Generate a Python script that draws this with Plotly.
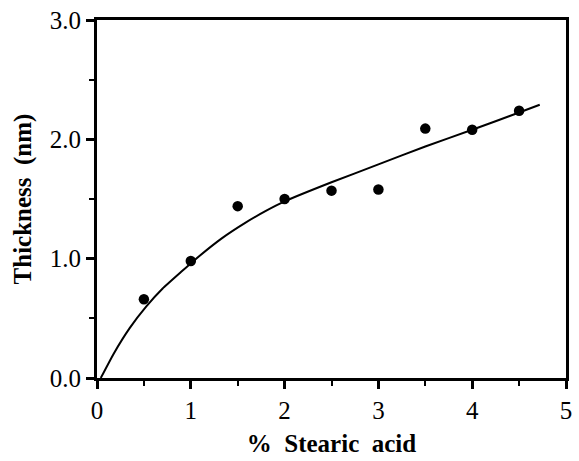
import plotly.graph_objects as go

# Measured film thickness vs. stearic acid content
stearic_pct = [0.5, 1.0, 1.5, 2.0, 2.5, 3.0, 3.5, 4.0, 4.5]
thickness_nm = [0.66, 0.98, 1.44, 1.50, 1.57, 1.58, 2.09, 2.08, 2.24]

# Fitted trend curve (sampled along the drawn line)
fit_x = [0.04, 0.175, 0.35, 0.526, 0.70, 0.877, 1.02, 1.33, 1.58, 1.80,
         2.0, 2.5, 3.0, 3.5, 4.0, 4.5, 4.72]
fit_y = [0.0, 0.20, 0.42, 0.60, 0.75, 0.875, 0.975, 1.17, 1.30, 1.40,
         1.48, 1.64, 1.79, 1.94, 2.08, 2.225, 2.29]

x_ticks = [0, 1, 2, 3, 4, 5]
y_ticks = [0.0, 1.0, 2.0, 3.0]

FONT = "Liberation Serif, Times New Roman, serif"

fig = go.Figure()
fig.add_trace(go.Scatter(
    x=fit_x, y=fit_y, mode="lines",
    line=dict(color="black", width=2, shape="spline", smoothing=0.35),
    hoverinfo="skip", showlegend=False,
))
fig.add_trace(go.Scatter(
    x=stearic_pct, y=thickness_nm, mode="markers",
    marker=dict(color="black", size=10.5),
    showlegend=False,
))

axis_common = dict(
    showgrid=False, zeroline=False,
    showline=True, linecolor="black", linewidth=3, mirror=True,
    ticks="outside", ticklen=8, tickwidth=2.5, tickcolor="black",
    tickfont=dict(family=FONT, size=25, color="black"),
)

fig.update_xaxes(
    range=[0, 5], tickvals=x_ticks, ticktext=[str(v) for v in x_ticks],
    minor=dict(dtick=0.5, ticks="outside", ticklen=5, tickwidth=2, tickcolor="black"),
    title=dict(text="<b>%  Stearic  acid</b>", font=dict(family=FONT, size=25, color="black"),
               standoff=12),
    **axis_common,
)
fig.update_yaxes(
    range=[0, 3], tickvals=y_ticks, ticktext=[f"{v:.1f}" for v in y_ticks],
    minor=dict(dtick=0.5, ticks="outside", ticklen=5, tickwidth=2, tickcolor="black"),
    title=dict(text="<b>Thickness  (nm)</b>", font=dict(family=FONT, size=25, color="black"),
               standoff=12),
    **axis_common,
)

fig.update_layout(
    width=579, height=461,
    margin=dict(l=97, r=7, t=16, b=80),
    paper_bgcolor="white", plot_bgcolor="white",
)

fig.write_html("out.html")
